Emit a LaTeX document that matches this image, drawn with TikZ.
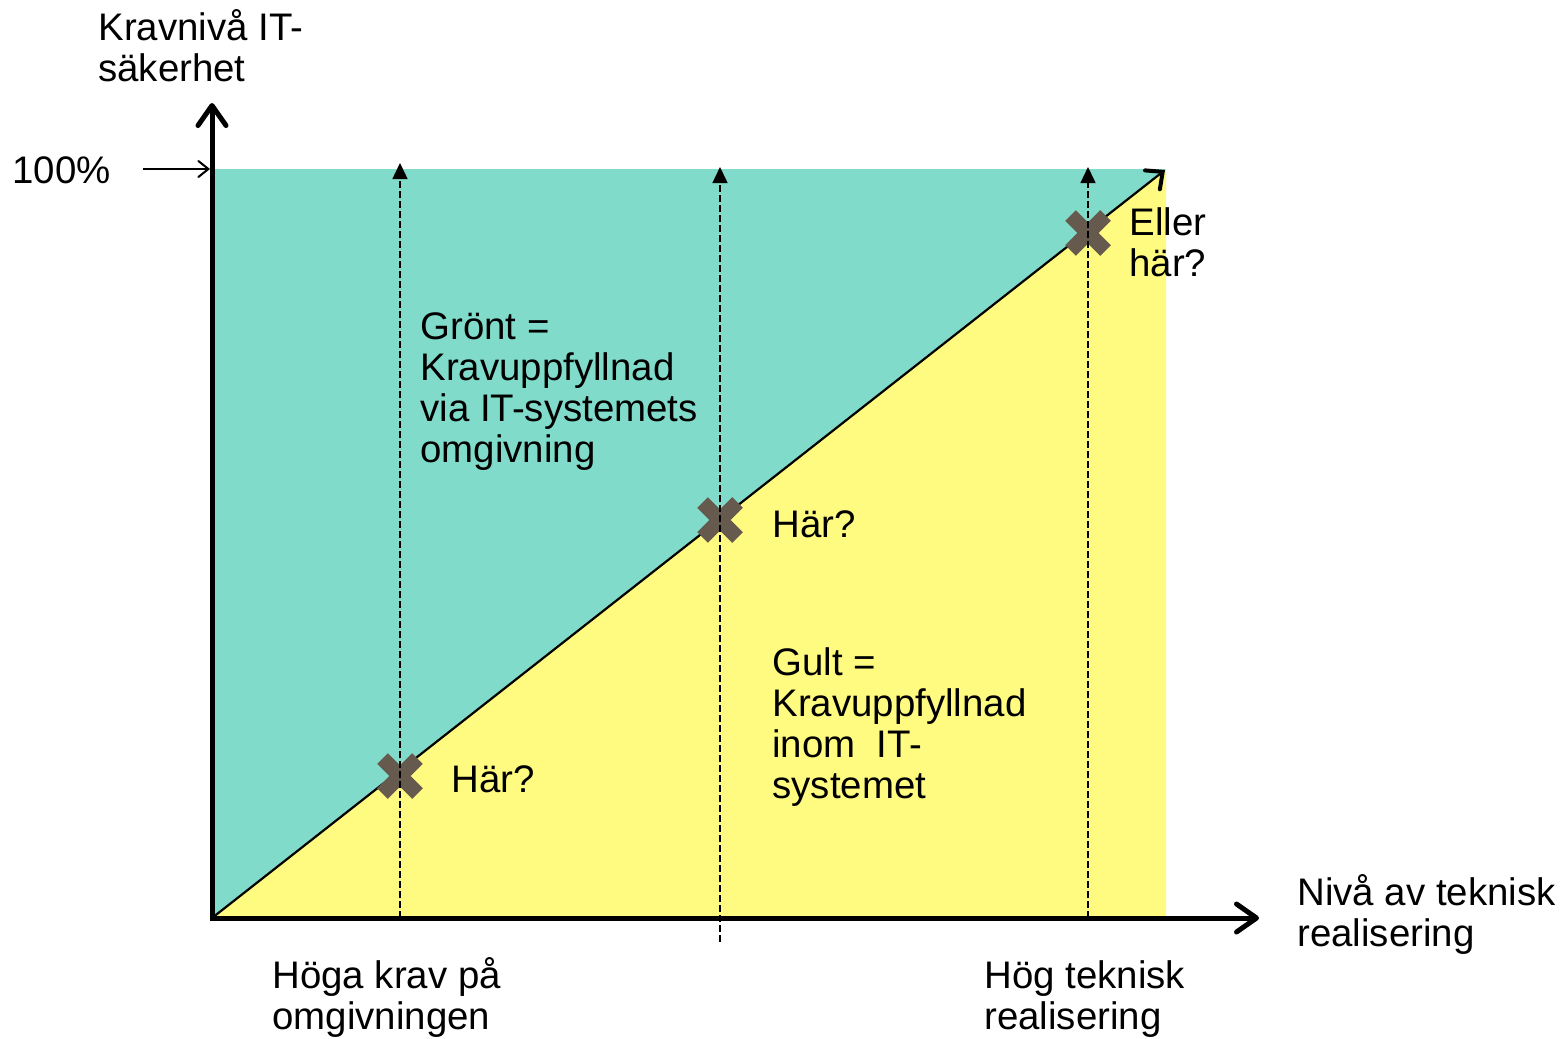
\documentclass[tikz,border=0pt]{standalone}
\usepackage{fontspec}
\setmainfont{Liberation Sans}
\usepackage{tikz}
\usetikzlibrary{arrows.meta, shapes.misc}
\definecolor{gron}{RGB}{128,219,202}
\definecolor{gul}{RGB}{255,251,128}
\definecolor{krysscol}{RGB}{102,90,78}
\tikzset{
    axel/.style    = {line width=2.5pt, -{Straight Barb[length=10pt, width=14pt, line cap=round, line join=round]}},
    pil/.style     = {line width=1pt, -{Straight Barb[length=5pt, width=8pt, line cap=round]}},
    diag/.style    = {line width=1.1pt, -{Straight Barb[length=6.5pt, width=12pt, line width=2pt, line cap=round]}},
    streck/.style  = {line width=0.7pt, dash pattern=on 3.5pt off 1.5pt, -{Triangle[length=8pt, width=7.5pt]}},
    kryss/.style   = {cross out, draw=krysscol, line width=7.5pt, minimum size=17.5pt, inner sep=0pt, outer sep=0pt},
    etikett/.style = {font=\fontsize{19.2}{20.5}\selectfont, align=left, anchor=base west, inner sep=0pt}
}

\begin{document}
\begin{tikzpicture}[x=0.5pt, y=-0.5pt]
        \useasboundingbox (0,0) rectangle (1566,1038);

        % --- Ytor ---
        \fill[gron] (215,169) rectangle (1166,916);
        \fill[gul]  (215,916) -- (1166,169) -- (1166,916) -- cycle;

        % --- Punkter ---
        \coordinate (o)    at (212,918);
        \coordinate (ytop) at (212,103);
        \coordinate (xend) at (1259,918);
        \coordinate (hundra) at (143,169);
        \coordinate (y100) at (210,169);
        \coordinate (dend) at (1165,170);
        \coordinate (s1a) at (400,918);  \coordinate (s1b) at (400,163);
        \coordinate (s2a) at (720,942);  \coordinate (s2b) at (720,167);
        \coordinate (s3a) at (1088,918); \coordinate (s3b) at (1088,167);

        \draw[diag] (o) -- (dend);

        \node[kryss] (k1) at (400,776) {};
        \node[kryss] (k2) at (720,520) {};
        \node[kryss] (k3) at (1088,233) {};

        \draw[streck] (s1a) -- (s1b);
        \draw[streck] (s2a) -- (s2b);
        \draw[streck] (s3a) -- (s3b);

        % --- Axlar ---
        \draw[axel] ([yshift=-1.2pt]o) -- (ytop);
        \draw[axel] ([xshift=-1.2pt]o) -- (xend);
        \draw[pil] (hundra) -- (y100);

        % --- Texter (base = sista raden) ---
        \node[etikett] (ylab)  at (98,82)     {Kravnivå IT-\\säkerhet};
        \node[etikett] (p100)  at (12,183)    {100\%};
        \node[etikett] (gront) at (420,462)   {Grönt =\\Kravuppfyllnad\\via IT-systemets\\omgivning};
        \node[etikett] (har1)  at (451,792)   {Här?};
        \node[etikett] (har2)  at (772,537)   {Här?};
        \node[etikett] (eller) at (1129,276)  {Eller\\här?};
        \node[etikett] (gult)  at (772,798)   {Gult =\\Kravuppfyllnad\\inom\ \ IT-\\systemet};
        \node[etikett] (xlab)  at (1297,946)  {Nivå av teknisk\\realisering};
        \node[etikett] (hoga)  at (272,1029)  {Höga krav på\\omgivningen};
        \node[etikett] (hog)   at (984,1029)  {Hög teknisk\\realisering};
    \end{tikzpicture}
\end{document}
